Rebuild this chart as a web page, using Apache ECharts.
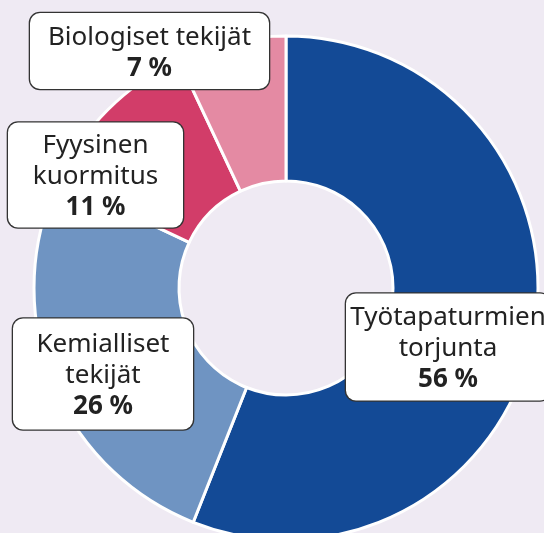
<!DOCTYPE html>
<html>
<head>
<meta charset="utf-8">
<script src="https://cdn.jsdelivr.net/npm/echarts@6/dist/echarts.min.js"></script>
<style>
html,body{margin:0;padding:0;background:#efeaf3;}
#c{width:544px;height:533px;}
</style>
</head>
<body>
<div id="c"></div>
<script>
const categories = ["Työtapaturmien\ntorjunta", "Kemialliset\ntekijät", "Fyysinen\nkuormitus", "Biologiset tekijät"];
const values = [56, 26, 11, 7];
const colors = ["#134a96", "#6f94c2", "#d23d69", "#e48aa3"];

// label box layout (center x, center y, box content width, vertical padding)
const labelBoxes = [
  {x: 448, y: 347, w: 204, pv: 7},
  {x: 103, y: 374, w: 180, pv: 9},
  {x: 95.5, y: 175, w: 175, pv: 6},
  {x: 149.5, y: 51, w: 239, pv: 7}
];

const chart = echarts.init(document.getElementById('c'), null, {renderer: 'canvas'});
const FONT = '"Noto Sans", sans-serif';

chart.setOption({
  backgroundColor: '#efeaf3',
  animation: false,
  series: [{
    type: 'pie',
    center: [286, 288],
    radius: [107, 252],
    startAngle: 90,
    clockwise: true,
    avoidLabelOverlap: false,
    itemStyle: {borderColor: '#ffffff', borderWidth: 3},
    labelLine: {show: false},
    data: categories.map((name, i) => ({
      name: name,
      value: values[i],
      itemStyle: {color: colors[i]},
      label: {
        width: labelBoxes[i].w,
        padding: [labelBoxes[i].pv + 2, 0, labelBoxes[i].pv - 2, 0]
      }
    })),
    label: {
      show: true,
      position: 'inside',
      formatter: function (p) {
        const lines = p.name.split('\n').map(s => '{n|' + s + '}');
        return lines.join('\n') + '\n{p|' + p.value + ' %}';
      },
      backgroundColor: '#ffffff',
      borderColor: '#333333',
      borderWidth: 1.3,
      borderRadius: 10,
      align: 'center',
      rich: {
        n: {fontFamily: FONT, fontSize: 26, lineHeight: 31, color: '#222222', align: 'center'},
        p: {fontFamily: FONT, fontSize: 26, lineHeight: 31, fontWeight: 'bold', color: '#222222', align: 'center'}
      }
    },
    labelLayout: function (params) {
      const b = labelBoxes[params.dataIndex];
      return {x: b.x, y: b.y, align: 'center', verticalAlign: 'middle'};
    }
  }]
});
</script>
</body>
</html>
